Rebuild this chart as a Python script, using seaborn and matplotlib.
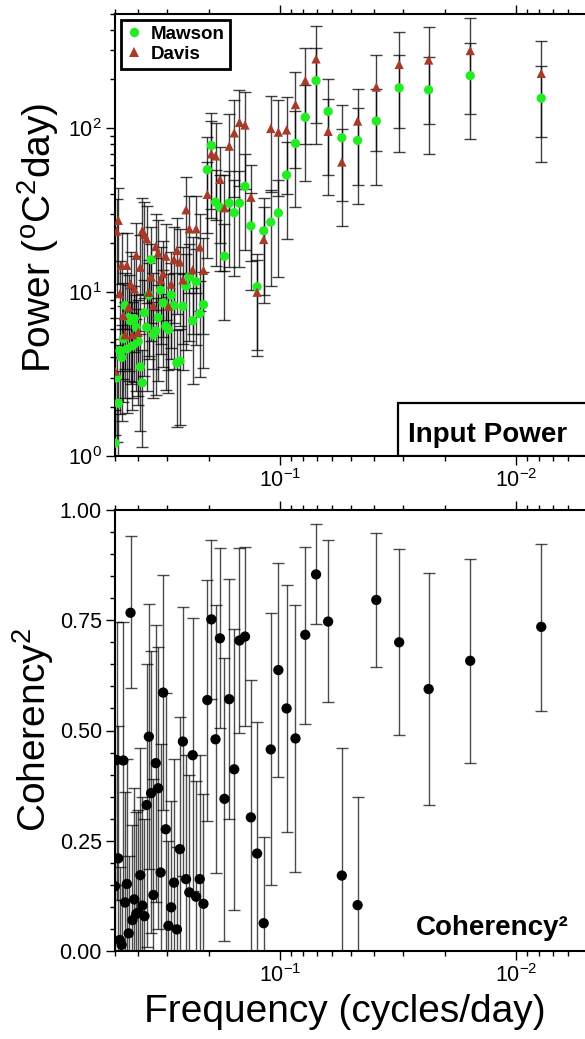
import numpy as np
import pandas as pd
import seaborn as sns
import matplotlib
matplotlib.use("Agg")
import matplotlib.pyplot as plt
from matplotlib.ticker import LogLocator, MultipleLocator, NullFormatter, FormatStrFormatter
from matplotlib.patches import Rectangle

###############################################################################
# data - harmonics of a 128 day record, k = 1..64
record_days = 128
harmonic = np.arange(1, 65)
freq = harmonic / record_days

power_mawson = [153, 210, 172, 177, 111, 84.5, 87.8, 127, 196, 117,
                81, 52, 30.5, 26.8, 23.7, 10.8, 25.4, 44.3, 35, 30.6,
                35, 16.6, 33, 35.5, 78.7, 56, 8.4, 7.4, 11.6, 6.7,
                12.4, 10.9, 8.2, 3.8, 3.7, 8.3, 9.6, 5.9, 6.2, 8.6,
                10.3, 7.0, 5.8, 5.5, 15.8, 9.6, 6.1, 7.5, 2.8, 3.5,
                5.0, 6.1, 6.9, 4.7, 6.7, 7.0, 4.5, 8.3, 5.2, 4.0,
                4.4, 2.1, 3.0, 1.2]
power_davis = [217, 299, 262, 246, 179, 111, 62.4, 96, 266, 196,
               140, 98, 95, 100, 21, 10, 38, 105, 109, 94,
               78, 32.8, 48.9, 68, 70, 39.6, 13.6, 18.9, 24.4, 13.7,
               24.4, 31.9, 11.9, 15.3, 18, 15.8, 11.2, 8.2, 16.6, 13,
               11.9, 17.4, 19, 8.3, 12.4, 10, 21.2, 22.5, 23.9, 14.2,
               5.7, 16.8, 10.5, 5.5, 11.2, 8.1, 14.6, 5.5, 7.2, 14.6,
               9.8, 27.5, 23.6, 3.3]
# confidence interval on power: bars reach ~0.2 decade above, ~0.39 decade below
ci_up = 1.58
ci_down = 2.45

coh = [0.735, 0.658, 0.594, 0.700, 0.796, 0.104, 0.171, 0.747, 0.854, 0.717,
       0.482, 0.550, 0.637, 0.457, 0.063, 0.221, 0.303, 0.713, 0.704, 0.412,
       0.571, 0.345, 0.709, 0.480, 0.752, 0.569, 0.107, 0.163, 0.123, 0.444,
       0.133, 0.163, 0.475, 0.231, 0.049, 0.155, 0.099, 0.057, 0.276, 0.586,
       0.178, 0.369, 0.426, 0.127, 0.358, 0.486, 0.331, 0.079, 0.103, 0.172,
       0.087, 0.084, 0.117, 0.070, 0.767, 0.040, 0.152, 0.110, 0.432, 0.014,
       0.025, 0.210, 0.433, 0.147]
coh_hi = [0.924, 0.890, 0.858, 0.911, 0.948, 0.349, 0.460, 0.932, 0.968, 0.917,
          0.784, 0.830, 0.880, 0.766, 0.259, 0.520, 0.615, 0.917, 0.914, 0.730,
          0.843, 0.665, 0.913, 0.785, 0.932, 0.842, 0.355, 0.445, 0.385, 0.754,
          0.400, 0.445, 0.779, 0.530, 0.235, 0.435, 0.340, 0.250, 0.585, 0.853,
          0.470, 0.690, 0.740, 0.390, 0.680, 0.787, 0.650, 0.300, 0.350, 0.460,
          0.320, 0.315, 0.370, 0.285, 0.941, 0.215, 0.435, 0.360, 0.745, 0.150,
          0.190, 0.510, 0.745, 0.430]
coh_lo = [0.544, 0.426, 0.331, 0.490, 0.645, 0, 0, 0.565, 0.741, 0.515,
          0.180, 0.270, 0.395, 0.150, 0, 0, 0, 0.510, 0.495, 0.093,
          0.300, 0.023, 0.505, 0.176, 0.572, 0.295, 0, 0, 0, 0.135,
          0, 0, 0.170, 0, 0, 0, 0, 0, 0, 0.320,
          0, 0.050, 0.110, 0, 0.040, 0.185, 0.010, 0, 0, 0,
          0, 0, 0, 0, 0.597, 0, 0, 0, 0.115, 0,
          0, 0, 0.115, 0]

stations = ['Mawson', 'Davis']
colors = {'Mawson': '#22ec22', 'Davis': '#a83a2a'}
###############################################################################

sns.set_style("ticks")
plt.rcParams['font.family'] = ['Liberation Sans', 'DejaVu Sans']
plt.rcParams['mathtext.fontset'] = 'custom'
plt.rcParams['mathtext.rm'] = 'Liberation Sans'
plt.rcParams['mathtext.default'] = 'regular'
# GMT look: everything black, not seaborn's dark grey
for key in ['text.color', 'axes.labelcolor', 'xtick.color', 'ytick.color', 'axes.edgecolor']:
    plt.rcParams[key] = 'black'

df_power = pd.DataFrame({
    'freq': np.concatenate([freq, freq]),
    'power': power_mawson + power_davis,
    'station': ['Mawson'] * len(freq) + ['Davis'] * len(freq),
})
df_coh = pd.DataFrame({'freq': freq, 'coh': coh, 'lo': coh_lo, 'hi': coh_hi})

fig = plt.figure(figsize=(5.85, 10.39), dpi=100)
ax1 = fig.add_axes([115/585, 1-456/1039, 472/585, 442/1039])
ax2 = fig.add_axes([115/585, 1-951/1039, 472/585, 441/1039])

# ---- top panel: input power
for st in stations:
    p = df_power.loc[df_power['station'] == st, 'power'].to_numpy()
    f = df_power.loc[df_power['station'] == st, 'freq'].to_numpy()
    ax1.errorbar(f, p, yerr=[p - p / ci_down, p * ci_up - p], fmt='none',
                 ecolor='black', elinewidth=1.0, capsize=4.3, capthick=1.0,
                 alpha=0.75, zorder=2)
sns.scatterplot(data=df_power, x='freq', y='power', hue='station', style='station',
                markers={'Mawson': 'o', 'Davis': '^'}, palette=colors,
                s=45, edgecolor='none', linewidth=0, ax=ax1, zorder=3)
ax1.set_xscale('log')
ax1.set_yscale('log')
ax1.set_xlim(0.5, 0.005)
ax1.set_ylim(1, 500)

handles, labels = ax1.get_legend_handles_labels()
keep = [i for i, l in enumerate(labels) if l in stations]
leg = ax1.legend([handles[i] for i in keep], [labels[i] for i in keep],
                 loc='upper left', bbox_to_anchor=(0.012, 0.986), borderaxespad=0,
                 prop={'weight': 'bold', 'size': 13.5}, handlelength=0.8,
                 handletextpad=0.5, borderpad=0.3, labelspacing=0.15,
                 frameon=True, fancybox=False, framealpha=1)
leg.get_frame().set_edgecolor('black')
leg.get_frame().set_linewidth(2.0)

ax1.add_patch(Rectangle((0.5996, 0), 0.5, 0.12, transform=ax1.transAxes,
                        facecolor='white', edgecolor='black', lw=1.6, zorder=5))
ax1.text(0.621, 0.032, 'Input Power', transform=ax1.transAxes, fontsize=20,
         fontweight='bold', ha='left', va='baseline', zorder=6)

# ---- bottom panel: coherency
ax2.errorbar(df_coh['freq'], df_coh['coh'],
             yerr=[df_coh['coh'] - df_coh['lo'], df_coh['hi'] - df_coh['coh']],
             fmt='none', ecolor='black', elinewidth=1.0, capsize=4.3, capthick=1.0,
             alpha=0.7, zorder=2)
sns.scatterplot(data=df_coh, x='freq', y='coh', color='black', s=55,
                edgecolor='none', linewidth=0, ax=ax2, zorder=3, legend=False)
ax2.set_xscale('log')
ax2.set_xlim(0.5, 0.005)
ax2.set_ylim(0, 1)
ax2.yaxis.set_major_locator(MultipleLocator(0.25))
ax2.yaxis.set_minor_locator(MultipleLocator(0.05))
ax2.yaxis.set_major_formatter(FormatStrFormatter('%.2f'))
ax2.text(0.962, 0.036, 'Coherency²', transform=ax2.transAxes, fontsize=20,
         fontweight='bold', ha='right', va='baseline', zorder=6)

for ax in (ax1, ax2):
    ax.xaxis.set_major_locator(LogLocator(base=10, numticks=10))
    ax.xaxis.set_minor_locator(LogLocator(base=10, subs=np.arange(2, 10), numticks=20))
    ax.xaxis.set_minor_formatter(NullFormatter())
    ax.set_xlabel('')
    ax.set_ylabel('')
    ax.tick_params(which='both', direction='out', top=True, right=False,
                   labeltop=False, width=1.0, labelsize=15.5, pad=3)
    ax.tick_params(which='major', length=6.5)
    ax.tick_params(which='minor', length=3.5)
    for side in ['top', 'left', 'bottom']:
        ax.spines[side].set_linewidth(1.5)
    ax.spines['right'].set_visible(False)
ax1.yaxis.set_major_locator(LogLocator(base=10, numticks=10))
ax1.yaxis.set_minor_locator(LogLocator(base=10, subs=np.arange(2, 10), numticks=20))
ax1.yaxis.set_minor_formatter(NullFormatter())

# axis titles
fig.text(38/585, 1-238/1039, 'Power ($^{o}$C$^{2}$day)', rotation=90,
         ha='center', va='center', fontsize=28)
fig.text(33/585, 1-730/1039, 'Coherency$^{2}$', rotation=90,
         ha='center', va='center', fontsize=28)
fig.text(345/585, 1-1012/1039, 'Frequency (cycles/day)',
         ha='center', va='center', fontsize=28)

plt.savefig('out.png', dpi=100)
